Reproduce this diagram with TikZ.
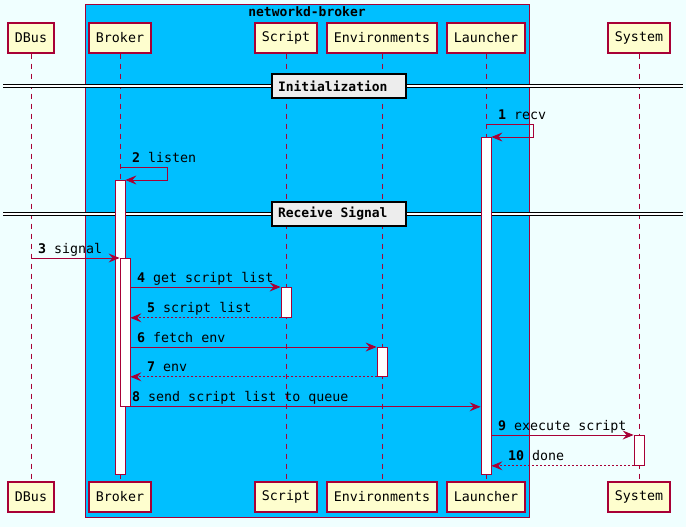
\documentclass[tikz,border=0pt]{standalone}
\usepackage{fontspec}
\setmonofont{DejaVu Sans Mono}
\usetikzlibrary{arrows.meta}
\definecolor{umlred}{HTML}{A80036}
\definecolor{umlfill}{HTML}{FEFECE}
\definecolor{umlbg}{HTML}{F0FFFF}
\definecolor{boxblue}{HTML}{00BFFF}
\tikzset{
  part/.style={draw=umlred,fill=umlfill,line width=1.3pt,minimum height=30pt,inner sep=0pt,font=\ttfamily\fontsize{13.3}{15}\selectfont},
  lifeline/.style={draw=umlred,line width=0.8pt,dash pattern=on 5pt off 5pt},
  act/.style={draw=umlred,fill=white,line width=0.8pt,minimum width=10pt,inner sep=0pt},
  msg/.style={draw=umlred,line width=0.9pt,-{Stealth[length=11pt,width=9pt,inset=4pt]}},
  ret/.style={msg,dash pattern=on 2pt off 2pt},
  lbl/.style={anchor=base west,inner sep=0pt,font=\ttfamily\fontsize{13.3}{15}\selectfont},
  divider/.style={draw=black,fill=black!7,line width=1.6pt,inner xsep=6pt,inner ysep=0pt,minimum height=24pt,font=\ttfamily\bfseries\fontsize{13}{15}\selectfont}
}
\begin{document}
\begin{tikzpicture}[x=1pt,y=-1pt]
\useasboundingbox[fill=umlbg] (0,0) rectangle (686,527);
% group box
\draw[draw=umlred,fill=boxblue,line width=0.8pt] (85,4) rectangle (529,517);
\node[font=\ttfamily\bfseries\fontsize{13}{15}\selectfont,inner sep=0pt] (grp) at (307,12) {networkd-broker};
% participants, top and bottom
\foreach \name/\x/\w in {DBus/31/46,Broker/120/62,Script/286/62,Environments/382/110,Launcher/486/78,System/639/62}{
  \node[part,minimum width=\w pt] (\name-top) at (\x,38) {\name};
  \node[part,minimum width=\w pt] (\name-bot) at (\x,497) {\name};
  \draw[lifeline] (\name-top) -- (\name-bot);
}
% dividers
\foreach \y/\txt/\id in {86/Initialization/init,214/Receive Signal/recv}{
  \draw[double=white,double distance=2pt,line width=0.9pt] (3,\y) -- (683,\y);
  \node[divider] (div-\id) at (339,\y) {\makebox[122pt][l]{\txt}};
}
% activations
\node[act,anchor=north,minimum height=337pt] (lau) at (486,137) {};
\node[act,anchor=north,minimum height=294pt] (brk) at (120,180) {};
\node[act,anchor=north,minimum height=148pt] (brk2) at (125,258) {};
\node[act,anchor=north,minimum height=30pt] (scr) at (286,287) {};
\node[act,anchor=north,minimum height=29pt] (env) at (382,347) {};
\node[act,anchor=north,minimum height=30pt] (sys) at (639,435) {};
% messages
\draw[msg] (Launcher-top |- 0,124) -- ++(47,0) -- ++(0,13) -- (lau.north east);
\node[lbl] (m1) at (498,119) {\textbf{1} recv};
\draw[msg] (Broker-top |- 0,167) -- ++(47,0) -- ++(0,13) -- (brk.north east);
\node[lbl] (m2) at (132,162) {\textbf{2} listen};
\draw[msg] (DBus-top |- brk2.north) -- (brk2.north west);
\node[lbl] (m3) at (38,253) {\textbf{3} signal};
\draw[msg] (brk2.east |- scr.north) -- (scr.north west);
\node[lbl] (m4) at (137,282) {\textbf{4} get script list};
\draw[ret] (scr.south west) -- (brk2.east |- scr.south);
\node[lbl] (m5) at (147,312) {\textbf{5} script list};
\draw[msg] (brk2.east |- env.north) -- (env.north west);
\node[lbl] (m6) at (137,342) {\textbf{6} fetch env};
\draw[ret] (env.south west) -- (brk2.east |- env.south);
\node[lbl] (m7) at (147,371) {\textbf{7} env};
\draw[msg] (brk2.south east) -- (lau.west |- brk2.south);
\node[lbl] (m8) at (132,401) {\textbf{8} send script list to queue};
\draw[msg] (lau.east |- sys.north) -- (sys.north west);
\node[lbl] (m9) at (498,430) {\textbf{9} execute script};
\draw[ret] (sys.south west) -- (lau.east |- sys.south);
\node[lbl] (m10) at (508,460) {\textbf{10} done};
\end{tikzpicture}
\end{document}
